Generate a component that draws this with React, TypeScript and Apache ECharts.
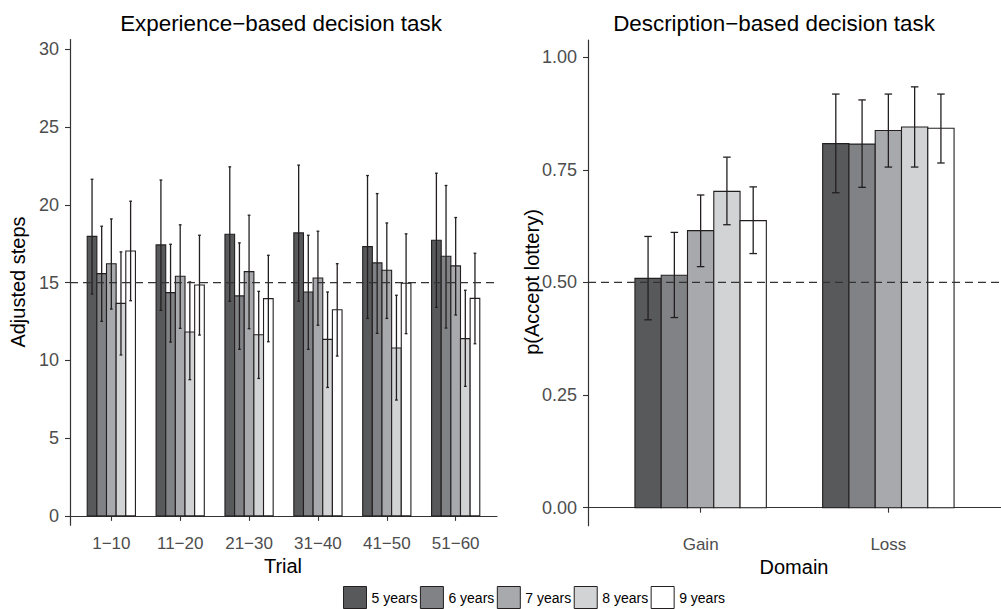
import React, { useEffect, useRef } from "react";
import * as echarts from "echarts";

const trials = ["1−10", "11−20", "21−30", "31−40", "41−50", "51−60"];
const domains = ["Gain", "Loss"];
const ages = ["5 years", "6 years", "7 years", "8 years", "9 years"];
const ageColors = ["#58595b", "#808285", "#a7a9ac", "#d1d3d4", "#ffffff"];

// Experience-based task: adjusted steps (mean, lower, upper) per age group, per trial block
const expMean = [
  [17.98, 17.43, 18.11, 18.2, 17.32, 17.73],
  [15.58, 14.36, 14.15, 14.4, 16.27, 16.7],
  [16.22, 15.41, 15.71, 15.3, 15.8, 16.08],
  [13.67, 11.83, 11.65, 11.35, 10.8, 11.4],
  [17.04, 14.85, 13.97, 13.26, 14.96, 13.99],
];
const expLow = [
  [14.27, 13.22, 13.8, 13.8, 12.7, 13.41],
  [12.51, 11.18, 10.71, 10.71, 11.74, 12.08],
  [13.3, 12.06, 12.04, 12.26, 12.7, 12.92],
  [10.35, 8.76, 8.84, 8.26, 7.45, 8.33],
  [13.84, 11.63, 11.2, 10.28, 11.72, 11.07],
];
const expHigh = [
  [21.65, 21.6, 22.45, 22.56, 21.89, 22.04],
  [18.63, 17.47, 17.56, 18.05, 20.73, 21.25],
  [19.1, 18.72, 19.34, 18.31, 18.84, 19.19],
  [16.98, 15.05, 14.44, 14.4, 14.19, 14.51],
  [20.24, 18.05, 16.76, 16.22, 18.14, 16.89],
];

// Description-based task: p(Accept lottery) per age group, per domain
const descMean = [
  [0.509, 0.808],
  [0.516, 0.807],
  [0.615, 0.837],
  [0.702, 0.845],
  [0.637, 0.842],
];
const descLow = [
  [0.417, 0.699],
  [0.422, 0.711],
  [0.535, 0.756],
  [0.628, 0.756],
  [0.564, 0.765],
];
const descHigh = [
  [0.602, 0.918],
  [0.611, 0.905],
  [0.694, 0.918],
  [0.778, 0.934],
  [0.712, 0.918],
];

const expTicks = [0, 5, 10, 15, 20, 25, 30];
const descTicks = [0, 0.25, 0.5, 0.75, 1];
const expRef = 15;
const descRef = 0.5;

const BAR_W = 0.14;
const CAP_W = 0.04;
const INK = "#231f20";
const FONT = "Liberation Sans, Arial, Helvetica, sans-serif";

function makeRender(ai: number) {
  return (params: any, api: any) => {
    const x = api.value(0);
    const mean = api.value(1);
    const lo = api.value(2);
    const hi = api.value(3);
    const cx = x + (ai - 2) * BAR_W;
    const p0 = api.coord([cx - BAR_W / 2, mean]);
    const p1 = api.coord([cx + BAR_W / 2, 0]);
    const t = api.coord([cx, hi]);
    const b = api.coord([cx, lo]);
    const cl = api.coord([cx - CAP_W / 2, hi]);
    const cr = api.coord([cx + CAP_W / 2, hi]);
    const errStyle = { stroke: INK, lineWidth: 1.3 };
    return {
      type: "group",
      children: [
        {
          type: "rect",
          shape: { x: p0[0], y: p0[1], width: p1[0] - p0[0], height: p1[1] - p0[1] },
          style: { fill: ageColors[ai], stroke: INK, lineWidth: 1.1 },
        },
        { type: "line", shape: { x1: t[0], y1: t[1], x2: b[0], y2: b[1] }, style: errStyle },
        { type: "line", shape: { x1: cl[0], y1: t[1], x2: cr[0], y2: t[1] }, style: errStyle },
        { type: "line", shape: { x1: cl[0], y1: b[1], x2: cr[0], y2: b[1] }, style: errStyle },
      ],
    };
  };
}

export default function App() {
  const ref = useRef<HTMLDivElement>(null);

  useEffect(() => {
    if (!ref.current) return;
    const chart = echarts.init(ref.current, undefined, { renderer: "svg" });

    const axisLine = { show: true, lineStyle: { color: "#333333", width: 1.2 } };
    const axisTick = (vals: number[]) => ({
      show: true,
      length: 5,
      lineStyle: { color: "#333333", width: 1.1 },
      customValues: vals,
    });
    const xLabelStyle = { color: "#4d4d4d", fontSize: 17, fontFamily: FONT };
    const yLabelStyle = { color: "#4d4d4d", fontSize: 18, fontFamily: FONT };

    const series: any[] = [];
    ages.forEach((age, ai) => {
      series.push({
        name: age,
        type: "custom",
        xAxisIndex: 0,
        yAxisIndex: 0,
        renderItem: makeRender(ai),
        itemStyle: { color: ageColors[ai], borderColor: INK, borderWidth: 1 },
        encode: { x: 0, y: 1 },
        data: trials.map((_, ti) => [ti + 1, expMean[ai][ti], expLow[ai][ti], expHigh[ai][ti]]),
        z: 2,
      });
      series.push({
        name: age,
        type: "custom",
        xAxisIndex: 1,
        yAxisIndex: 1,
        renderItem: makeRender(ai),
        itemStyle: { color: ageColors[ai], borderColor: INK, borderWidth: 1 },
        encode: { x: 0, y: 1 },
        data: domains.map((_, di) => [di + 1, descMean[ai][di], descLow[ai][di], descHigh[ai][di]]),
        z: 2,
      });
    });
    series.push({
      type: "line",
      xAxisIndex: 0,
      yAxisIndex: 0,
      data: [
        [0.4, expRef],
        [trials.length + 0.6, expRef],
      ],
      symbol: "none",
      silent: true,
      lineStyle: { color: "#333333", width: 1.3, type: [8, 5] },
      z: 5,
    });
    series.push({
      type: "line",
      xAxisIndex: 1,
      yAxisIndex: 1,
      data: [
        [0.4, descRef],
        [domains.length + 0.6, descRef],
      ],
      symbol: "none",
      silent: true,
      lineStyle: { color: "#333333", width: 1.3, type: [8, 5] },
      z: 5,
    });

    chart.setOption({
      animation: false,
      backgroundColor: "#ffffff",
      textStyle: { fontFamily: FONT },
      title: [
        {
          text: "Experience−based decision task",
          left: 276,
          top: 7,
          textAlign: "center",
          textStyle: { fontSize: 22.4, fontWeight: "normal", color: "#000000", fontFamily: FONT },
        },
        {
          text: "Description−based decision task",
          left: 769,
          top: 7,
          textAlign: "center",
          textStyle: { fontSize: 22.4, fontWeight: "normal", color: "#000000", fontFamily: FONT },
        },
      ],
      legend: {
        left: 343,
        top: 586,
        padding: 0,
        orient: "horizontal",
        itemWidth: 23,
        itemHeight: 22,
        itemGap: 2.5,
        icon: "rect",
        selectedMode: false,
        textStyle: { fontSize: 14, color: "#000000", fontFamily: FONT },
        data: ages.map((a, ai) => ({
          name: a,
          itemStyle: { color: ageColors[ai], borderColor: INK, borderWidth: 1 },
        })),
      },
      grid: [
        { left: 70, width: 427, top: 39.5, height: 485.7 },
        { left: 588, width: 413, top: 40, height: 485.7 },
      ],
      xAxis: [
        {
          type: "value",
          gridIndex: 0,
          min: 0.4,
          max: trials.length + 0.6,
          axisLine,
          axisTick: axisTick(trials.map((_, i) => i + 1)),
          splitLine: { show: false },
          axisLabel: {
            ...xLabelStyle,
            margin: 10,
            customValues: trials.map((_, i) => i + 1),
            formatter: (v: number) => trials[Math.round(v) - 1] ?? "",
          },
        },
        {
          type: "value",
          gridIndex: 1,
          min: 0.4,
          max: domains.length + 0.6,
          axisLine,
          axisTick: axisTick(domains.map((_, i) => i + 1)),
          splitLine: { show: false },
          axisLabel: {
            ...xLabelStyle,
            margin: 10,
            customValues: domains.map((_, i) => i + 1),
            formatter: (v: number) => domains[Math.round(v) - 1] ?? "",
          },
        },
      ],
      yAxis: [
        {
          type: "value",
          gridIndex: 0,
          min: -0.6,
          max: 30.64,
          axisLine,
          axisTick: axisTick(expTicks),
          splitLine: { show: false },
          axisLabel: {
            ...yLabelStyle,
            margin: 11,
            customValues: expTicks,
            formatter: (v: number) => String(Math.round(v)),
          },
        },
        {
          type: "value",
          gridIndex: 1,
          min: -0.04,
          max: 1.038,
          axisLine,
          axisTick: axisTick(descTicks),
          splitLine: { show: false },
          axisLabel: {
            ...yLabelStyle,
            margin: 11,
            customValues: descTicks,
            formatter: (v: number) => v.toFixed(2),
          },
        },
      ],
      graphic: [
        {
          type: "text",
          x: 18,
          y: 282,
          rotation: Math.PI / 2,
          style: {
            text: "Adjusted steps",
            fontSize: 20,
            fontFamily: FONT,
            fill: "#000000",
            textAlign: "center",
            textVerticalAlign: "middle",
          },
        },
        {
          type: "text",
          x: 283,
          y: 566,
          style: {
            text: "Trial",
            fontSize: 20,
            fontFamily: FONT,
            fill: "#000000",
            textAlign: "center",
            textVerticalAlign: "middle",
          },
        },
        {
          type: "text",
          x: 532,
          y: 282,
          rotation: Math.PI / 2,
          style: {
            text: "p(Accept lottery)",
            fontSize: 20,
            fontFamily: FONT,
            fill: "#000000",
            textAlign: "center",
            textVerticalAlign: "middle",
          },
        },
        {
          type: "text",
          x: 794,
          y: 567,
          style: {
            text: "Domain",
            fontSize: 20,
            fontFamily: FONT,
            fill: "#000000",
            textAlign: "center",
            textVerticalAlign: "middle",
          },
        },
      ],
      series,
    });

    return () => chart.dispose();
  }, []);

  return (
    <div
      ref={ref}
      style={{ position: "fixed", left: 0, top: 0, width: 1001, height: 609, background: "#fff" }}
    />
  );
}
